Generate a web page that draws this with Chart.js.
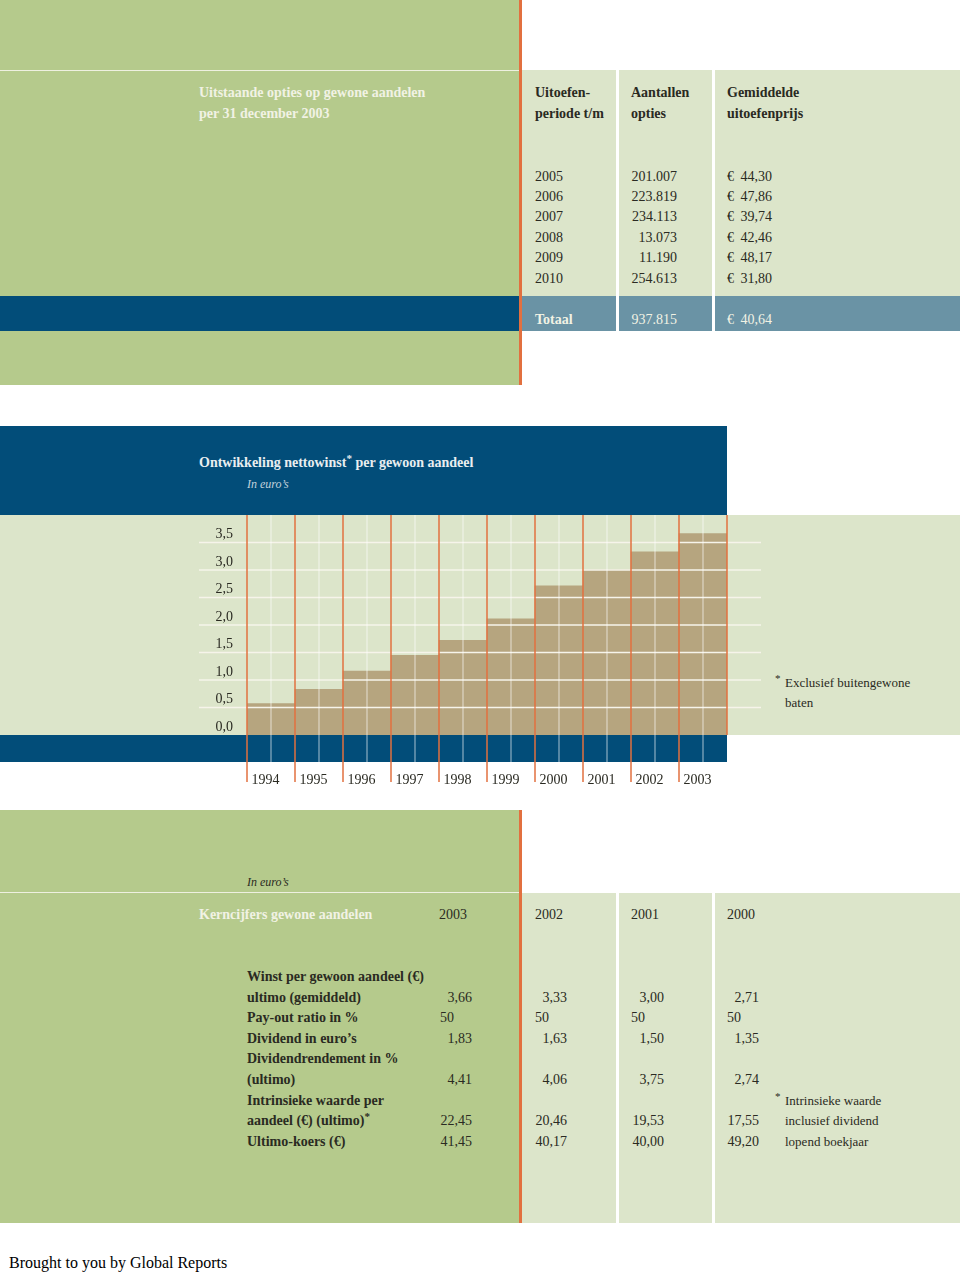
<!DOCTYPE html>
<html>
<head>
<meta charset="utf-8">
<script src="https://cdn.jsdelivr.net/npm/chart.js@4.4.0/dist/chart.umd.min.js"></script>
<style>
  body { margin: 0; width: 960px; height: 1272px; position: relative; overflow: hidden; background: #fff;
         font-family: "Liberation Serif", "Times New Roman", serif; color: #2a2a22; }
  .box { position: absolute; }
  .t { position: absolute; white-space: nowrap; font-size: 14px; line-height: 20px; height: 20px; }
  .b { font-weight: bold; }
  .cream { color: #f1f2e4; }
  .r { text-align: right; }
  .note { font-size: 13px; }
  .star { font-size: 11px; line-height: 0; position: relative; top: -5px; vertical-align: baseline; }
  #chartWrap { position: absolute; left: 0; top: 426px; width: 960px; height: 380px; }
</style>
</head>
<body>
<div id="page"></div>
<div id="chartWrap"><canvas id="eps-chart"></canvas></div>

<script>
// chart data
const years = ['1994', '1995', '1996', '1997', '1998', '1999', '2000', '2001', '2002', '2003'];
const epsValues = [0.57, 0.83, 1.16, 1.45, 1.72, 2.11, 2.71, 3.00, 3.33, 3.66];
const yTickLabels = ['0,0', '0,5', '1,0', '1,5', '2,0', '2,5', '3,0', '3,5'];

// options table
const optionYears = ['2005', '2006', '2007', '2008', '2009', '2010'];
const optionCounts = ['201.007', '223.819', '234.113', '13.073', '11.190', '254.613'];
const optionPrices = ['44,30', '47,86', '39,74', '42,46', '48,17', '31,80'];
const optionTotal = ['937.815', '40,64'];

// kerncijfers table
const keyYears = ['2003', '2002', '2001', '2000'];
const keyLabels = ['Winst per gewoon aandeel (€)', 'ultimo (gemiddeld)', 'Pay-out ratio in %', 'Dividend in euro’s',
    'Dividendrendement in %', '(ultimo)', 'Intrinsieke waarde per', 'aandeel (€) (ultimo)<span class="star">*</span>', 'Ultimo-koers (€)'];
const keyValues = [
    null,
    ['3,66', '3,33', '3,00', '2,71'],
    ['50', '50', '50', '50'],
    ['1,83', '1,63', '1,50', '1,35'],
    null,
    ['4,41', '4,06', '3,75', '2,74'],
    null,
    ['22,45', '20,46', '19,53', '17,55'],
    ['41,45', '40,17', '40,00', '49,20']
];

const GREEN = '#b5ca8c';
const LIGHT = '#dce5ca';
const NAVY = '#024d79';
const STEEL = '#6a93a5';
const ORANGE = '#e2703f';
const TAN = '#b6a57f';

const page = document.getElementById('page');

function box(x, y, w, h, color) {
    const d = document.createElement('div');
    d.className = 'box';
    d.style.cssText = `left:${x}px;top:${y}px;width:${w}px;height:${h}px;background:${color}`;
    page.appendChild(d);
}

function text(str, x, cy, cls, rightEdge) {
    const d = document.createElement('div');
    d.className = 't ' + (cls || '');
    d.innerHTML = str;
    d.style.top = (cy - 10) + 'px';
    if (rightEdge) {
        d.style.left = (x - 150) + 'px';
        d.style.width = '150px';
        d.classList.add('r');
    } else {
        d.style.left = x + 'px';
    }
    page.appendChild(d);
    return d;
}

// --- top section: outstanding options
box(0, 0, 519, 385, GREEN);
box(0, 70, 519, 1, '#eef0e0');
box(519, 0, 3, 385, ORANGE);
box(522, 70, 94, 226, LIGHT);
box(619, 70, 93, 226, LIGHT);
box(715, 70, 245, 226, LIGHT);
box(0, 296, 519, 35, NAVY);
box(522, 296, 94, 35, STEEL);
box(619, 296, 93, 35, STEEL);
box(715, 296, 245, 35, STEEL);

text('Uitstaande opties op gewone aandelen', 199, 93, 'b cream');
text('per 31 december 2003', 199, 114, 'b cream');
text('Uitoefen-', 535, 93, 'b');
text('periode t/m', 535, 114, 'b');
text('Aantallen', 631, 93, 'b');
text('opties', 631, 114, 'b');
text('Gemiddelde', 727, 93, 'b');
text('uitoefenprijs', 727, 114, 'b');

optionYears.forEach((yr, i) => {
    const cy = 176.5 + i * 20.4;
    text(yr, 535, cy);
    text(optionCounts[i], 677, cy, '', true);
    text('€', 727, cy);
    text(optionPrices[i], 772, cy, '', true);
});
text('Totaal', 535, 319.5, 'b cream');
text(optionTotal[0], 677, 319.5, 'cream', true);
text('€', 727, 319.5, 'cream');
text(optionTotal[1], 772, 319.5, 'cream', true);

// --- chart section backgrounds
box(0, 426, 727, 89, NAVY);
box(0, 515, 960, 220, LIGHT);
box(0, 735, 727, 27, NAVY);
text('Ontwikkeling nettowinst<span class="star">*</span> per gewoon aandeel', 199, 463, 'b').style.color = '#e9eef0';
const ie = text('<i>In euro’s</i>', 247, 484);
ie.style.color = '#c3d2dc';
ie.style.fontSize = '12px';
text('<span class="star">*</span>', 775, 683, 'note');
text('Exclusief buitengewone', 785, 683, 'note');
text('baten', 785, 703, 'note');

// --- bottom section: kerncijfers
box(0, 810, 519, 413, GREEN);
box(0, 892, 519, 1, '#eef0e0');
box(519, 810, 3, 413, ORANGE);
box(522, 893, 94, 330, LIGHT);
box(619, 893, 93, 330, LIGHT);
box(715, 893, 245, 330, LIGHT);

const ie2 = text('<i>In euro’s</i>', 247, 882);
ie2.style.fontSize = '12px';
text('Kerncijfers gewone aandelen', 199, 915, 'b cream');
const keyColLeft = [440, 535, 631, 727];
const keyColRight = [472, 567, 664, 759];
keyYears.forEach((yr, j) => text(yr, [439, 535, 631, 727][j], 915));
keyLabels.forEach((lab, i) => {
    const cy = 977 + i * 20.6;
    text(lab, 247, cy, 'b');
    const vals = keyValues[i];
    if (!vals) return;
    vals.forEach((v, j) => {
        if (v === '50') text(v, keyColLeft[j], cy);
        else text(v, keyColRight[j], cy, '', true);
    });
});
text('<span class="star">*</span>', 775, 1101, 'note');
text('Intrinsieke waarde', 785, 1101, 'note');
text('inclusief dividend', 785, 1121, 'note');
text('lopend boekjaar', 785, 1142, 'note');

const foot = text('Brought to you by Global Reports', 9, 1263);
foot.style.fontSize = '16px';
foot.style.color = '#000';

// --- chart
const overlayLines = {
    id: 'overlayLines',
    afterDatasetsDraw(chart) {
        const ctx = chart.ctx;
        const area = chart.chartArea;
        const yScale = chart.scales.y;
        const bars = chart.getDatasetMeta(0).data;
        const bandBottom = area.bottom + 27;
        const tickBottom = area.bottom + 47;
        ctx.save();
        // horizontal grid lines over the bars
        ctx.strokeStyle = '#f6f4ea';
        ctx.lineWidth = 1.5;
        for (let v = 0.5; v < 4; v += 0.5) {
            const py = yScale.getPixelForValue(v);
            ctx.beginPath();
            ctx.moveTo(area.left - 48, py);
            ctx.lineTo(area.right + 34, py);
            ctx.stroke();
        }
        // thin middle line in every column
        ctx.strokeStyle = 'rgba(255,255,255,0.55)';
        ctx.lineWidth = 1.2;
        bars.forEach(bar => {
            ctx.beginPath();
            ctx.moveTo(bar.x, area.top);
            ctx.lineTo(bar.x, bandBottom);
            ctx.stroke();
        });
        // orange column separators
        ctx.strokeStyle = ORANGE;
        ctx.lineWidth = 1.5;
        bars.forEach(bar => {
            const left = bar.x - bar.width / 2;
            ctx.beginPath();
            ctx.moveTo(left, area.top);
            ctx.lineTo(left, tickBottom);
            ctx.stroke();
        });
        const last = bars[bars.length - 1];
        ctx.beginPath();
        ctx.moveTo(last.x + last.width / 2, area.top);
        ctx.lineTo(last.x + last.width / 2, area.bottom);
        ctx.stroke();
        ctx.restore();
    }
};

new Chart(document.getElementById('eps-chart').getContext('2d'), {
    type: 'bar',
    data: {
        labels: years,
        datasets: [{
            data: epsValues,
            backgroundColor: TAN,
            borderWidth: 0,
            barPercentage: 1,
            categoryPercentage: 1
        }]
    },
    options: {
        responsive: true,
        maintainAspectRatio: false,
        animation: false,
        layout: { padding: { top: 89, right: 233, bottom: 0, left: 0 } },
        plugins: { legend: { display: false }, tooltip: { enabled: false } },
        scales: {
            x: {
                grid: { display: false, drawTicks: false },
                border: { display: false },
                ticks: {
                    align: 'start',
                    labelOffset: -19.5,
                    padding: 37,
                    maxRotation: 0,
                    color: '#2a2a22',
                    font: { family: 'Liberation Serif', size: 14 }
                },
                afterFit: scale => { scale.height = 71; }
            },
            y: {
                min: 0,
                max: 4,
                grid: { display: false, drawTicks: false },
                border: { display: false },
                ticks: {
                    stepSize: 0.5,
                    padding: 14,
                    labelOffset: -8,
                    color: '#2a2a22',
                    font: { family: 'Liberation Serif', size: 14 },
                    callback: (value, i) => yTickLabels[i] || ''
                },
                afterFit: scale => { scale.width = 247; }
            }
        }
    },
    plugins: [overlayLines]
});
</script>
</body>
</html>
